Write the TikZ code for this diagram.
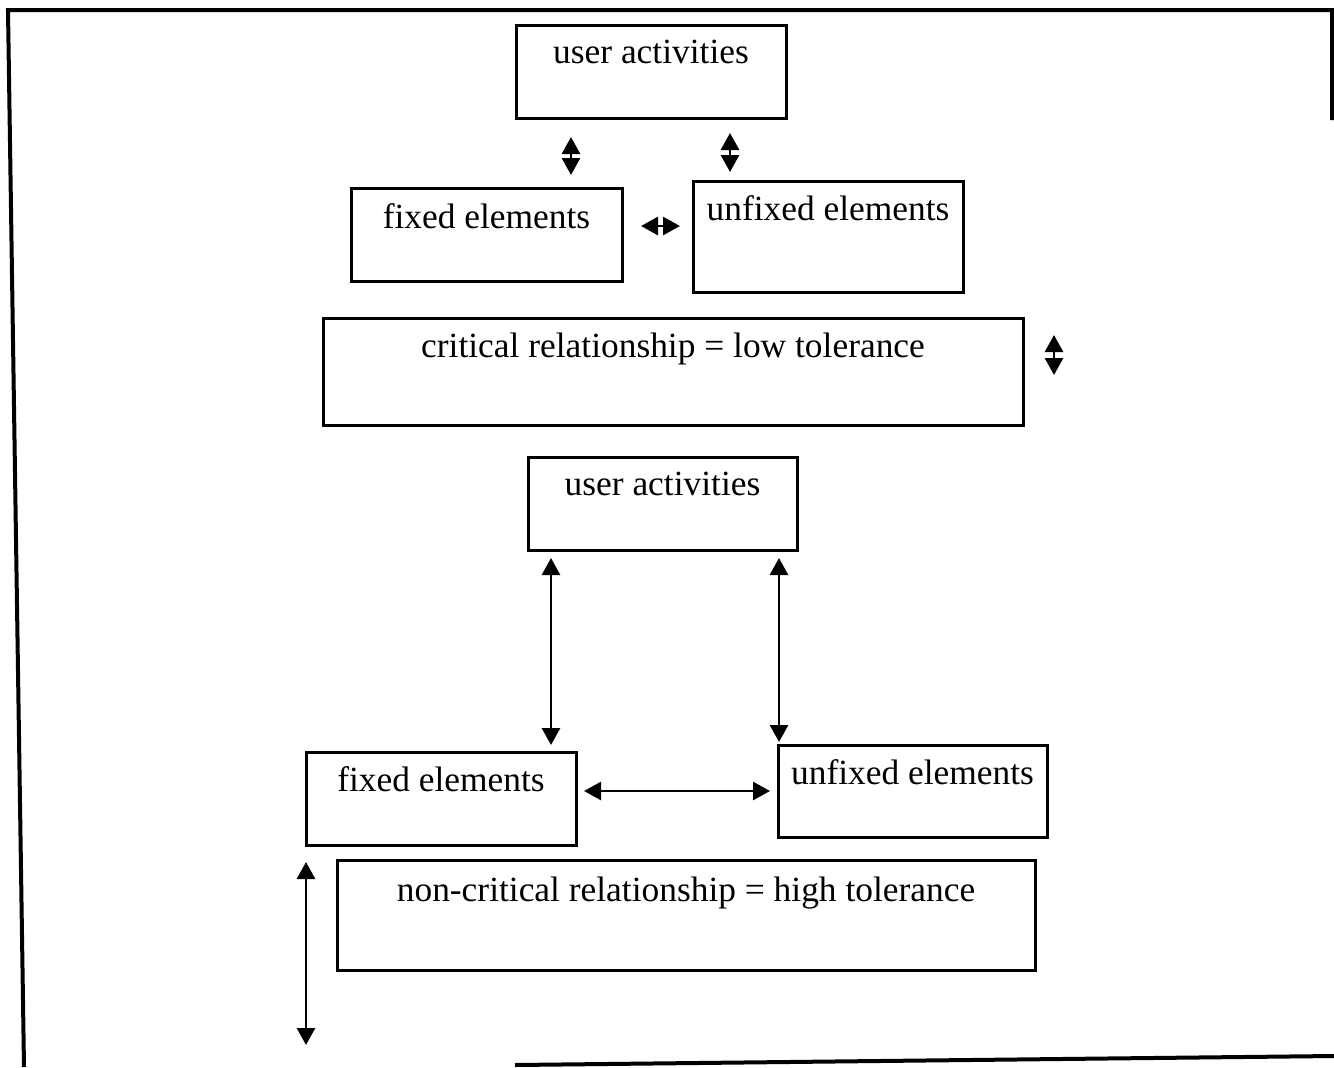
\documentclass[tikz,border=0pt]{standalone}
\usepackage{fontspec}
\setmainfont{Liberation Serif}
\usetikzlibrary{arrows.meta,calc}
\begin{document}
\begin{tikzpicture}[x=0.5pt,y=-0.5pt,
  box/.style={draw,line width=1.5pt,inner sep=0pt,rectangle},
  lbl/.style={inner sep=0pt,anchor=base,font=\fontsize{17.7}{20}\selectfont},
  twoway/.style={line width=1.4pt,{Triangle[width=9pt,length=8.5pt]}-{Triangle[width=9pt,length=8.5pt]}},
  frame/.style={line width=2pt}]
\useasboundingbox (0,0) rectangle (1334,1067);

% outer frame (open at the lower left)
\draw[frame] (1332,120) -- (1332,10) -- (8,10) -- (24,1067);
\draw[frame] (515,1065) -- (1334,1056);

% critical relationship group
\node[box,minimum width=135pt,minimum height=46.5pt] (ua1) at (651,71.5) {};
\node[box,minimum width=135.5pt,minimum height=46.5pt] (fe1) at (486.5,234.5) {};
\node[box,minimum width=135pt,minimum height=55.5pt] (ufe1) at (828,236.5) {};
\node[box,minimum width=350pt,minimum height=53.5pt] (crit) at (673,371.5) {};
\node[lbl] (ua1t) at ($(ua1.north)+(0,40)$) {user activities};
\node[lbl] (fe1t) at ($(fe1.north)+(0,42)$) {fixed elements};
\node[lbl] (ufe1t) at ($(ufe1.north)+(0,41)$) {unfixed elements};
\node[lbl] (critt) at ($(crit.north)+(0,41)$) {critical relationship = low tolerance};

% short links: tight coupling
\coordinate (a1) at (571,137); \coordinate (a2) at (571,175);
\coordinate (b1) at (730,133); \coordinate (b2) at (730,172);
\coordinate (c1) at (641,226); \coordinate (c2) at (680,226);
\coordinate (d1) at (1054,335); \coordinate (d2) at (1054,375);
\draw[twoway] (a1) -- (a2);
\draw[twoway] (b1) -- (b2);
\draw[twoway] (c1) -- (c2);
\draw[twoway] (d1) -- (d2);

% non-critical relationship group
\node[box,minimum width=134.5pt,minimum height=46.5pt] (ua2) at (662.5,503.5) {};
\node[box,minimum width=135pt,minimum height=46.5pt] (fe2) at (441,798.5) {};
\node[box,minimum width=134.5pt,minimum height=46pt] (ufe2) at (912.5,791) {};
\node[box,minimum width=349pt,minimum height=55pt] (ncrit) at (686,915) {};
\node[lbl] (ua2t) at ($(ua2.north)+(0,40)$) {user activities};
\node[lbl] (fe2t) at ($(fe2.north)+(0,41)$) {fixed elements};
\node[lbl] (ufe2t) at ($(ufe2.north)+(0,41)$) {unfixed elements};
\node[lbl] (ncritt) at ($(ncrit.north)+(0,43)$) {non-critical relationship = high tolerance};

% long links: loose coupling
\coordinate (e1) at (551,558); \coordinate (e2) at (551,745);
\coordinate (f1) at (779,558); \coordinate (f2) at (779,742);
\coordinate (g1) at (584,791); \coordinate (g2) at (770,791);
\coordinate (h1) at (306,862); \coordinate (h2) at (306,1045);
\draw[twoway] (e1) -- (e2);
\draw[twoway] (f1) -- (f2);
\draw[twoway] (g1) -- (g2);
\draw[twoway] (h1) -- (h2);
\end{tikzpicture}
\end{document}
